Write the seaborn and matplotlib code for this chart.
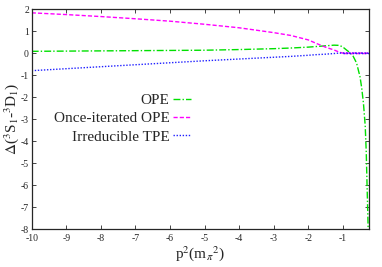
import numpy as np
import pandas as pd
import matplotlib
matplotlib.use("Agg")
import matplotlib.pyplot as plt
import seaborn as sns

# values
p2 = [-10, -9, -8, -7, -6, -5, -4, -3, -2.5, -2, -1.75, -1.5, -1.25, -1.1, -1.0,
      -0.9, -0.8, -0.7, -0.6, -0.5, -0.45, -0.4, -0.35, -0.32, -0.3, -0.28, -0.265]
ope = [0.08, 0.09, 0.10, 0.11, 0.12, 0.13, 0.16, 0.20, 0.23, 0.27, 0.30, 0.33, 0.36, 0.35, 0.28,
       0.15, 0.03, -0.14, -0.45, -1.08, -1.6, -2.3, -3.3, -4.5, -5.8, -7.0, -8.0]
once_iter = [1.83, 1.75, 1.66, 1.56, 1.45, 1.31, 1.15, 0.93, 0.80, 0.60, 0.43, 0.27, 0.14, 0.04, 0.0,
             0, 0, 0, 0, 0, 0, 0, 0, 0, 0, 0, 0]
irr_tpe = [-0.80, -0.71, -0.62, -0.53, -0.44, -0.35, -0.27, -0.19, -0.15, -0.10, -0.07, -0.05, -0.02, 0.0, 0.0,
           0, 0, 0, 0, 0, 0, 0, 0, 0, 0, 0, 0]
tail_p2 = [-1.0, -0.24]  # magenta/blue stay on zero to the right edge

labels = ["OPE", "Once-iterated OPE", "Irreducible TPE"]
colors = ["#00e000", "#ff00ff", "#2020ff"]
dashes = [(5, 1.5, 1, 1.5), (3, 1.5), (1, 1.2)]

df = pd.DataFrame({
    "p2": p2 * 3,
    "delta": ope + once_iter + irr_tpe,
    "curve": [labels[0]] * len(p2) + [labels[1]] * len(p2) + [labels[2]] * len(p2),
})

sns.set_style("ticks")
plt.rcParams["font.family"] = ["Liberation Serif", "DejaVu Serif"]
plt.rcParams["axes.unicode_minus"] = False
plt.rcParams["mathtext.fontset"] = "stix"

fig, ax = plt.subplots(figsize=(3.82, 2.67), dpi=100)
fig.subplots_adjust(left=0.083, right=0.966, top=0.966, bottom=0.142)

sns.lineplot(data=df, x="p2", y="delta", hue="curve", style="curve",
             hue_order=labels, style_order=labels,
             palette=dict(zip(labels, colors)), dashes=dict(zip(labels, dashes)),
             linewidth=1.0, ax=ax, sort=False, estimator=None)

for c, d in zip(colors[1:], dashes[1:]):
    ax.plot(tail_p2, [0, 0], color=c, lw=1.0, dashes=d)

ax.set_xlim(-10, -0.24)
ax.set_ylim(-8, 2)
ax.set_xticks(range(-10, 0))
ax.set_yticks(range(-8, 3))
ax.tick_params(direction="in", length=3, width=0.6, labelsize=7, top=True, right=True)
ax.tick_params(axis="x", pad=3.5)
ax.tick_params(axis="y", pad=2)
for s in ax.spines.values():
    s.set_linewidth(0.9)

ax.set_xlabel(r"p$^2$(m$_\pi$$^2$)", fontsize=11, labelpad=1)
ax.set_ylabel(r"$\Delta$($^3$S$_1$-$^3$D$_1$)", fontsize=11, labelpad=0)

ax.legend(loc="upper right", bbox_to_anchor=(0.49, 0.645), frameon=False, markerfirst=False,
          fontsize=11, handlelength=1.2, handletextpad=0.2, labelspacing=0.3, borderaxespad=0)

fig.savefig("out.png", dpi=100)
